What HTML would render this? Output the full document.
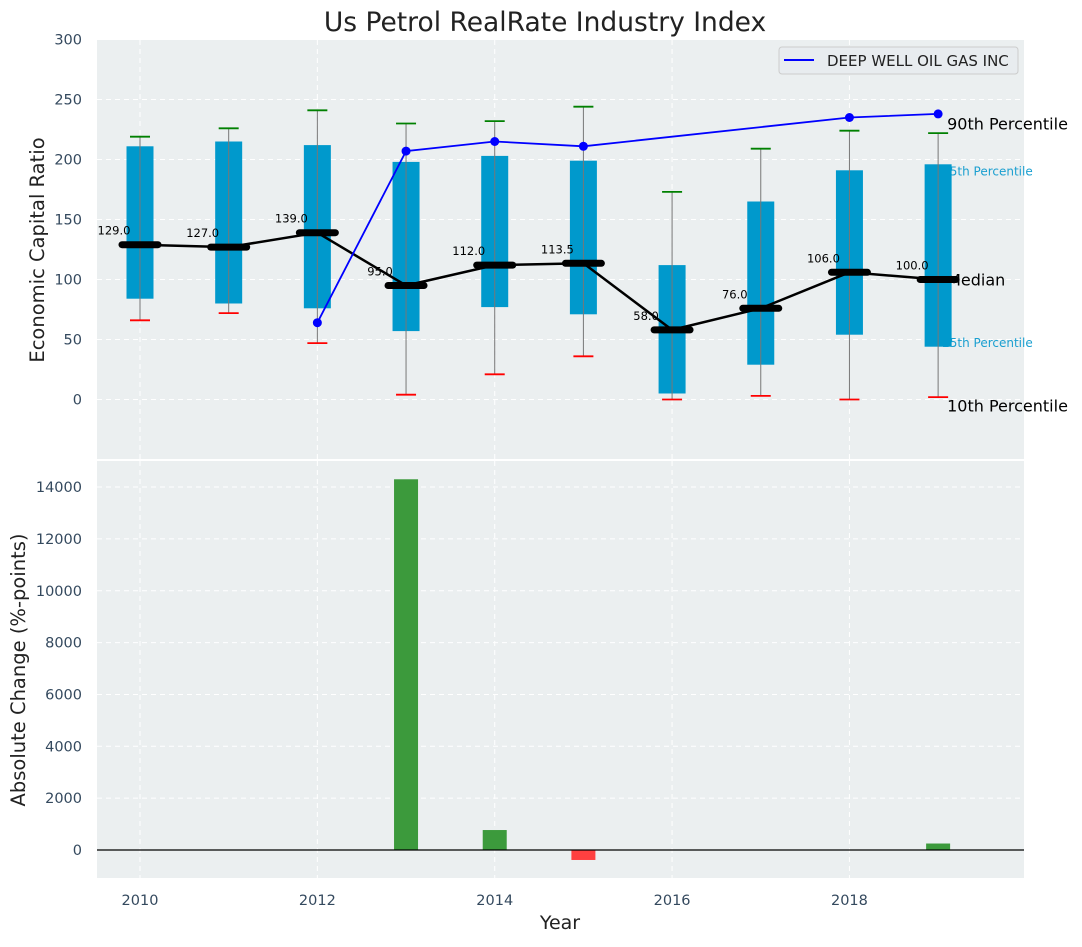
<!DOCTYPE html>
<html><head><meta charset="utf-8"><style>
body{margin:0;background:#fff;}
svg text{font-family:"DejaVu Sans","Liberation Sans",sans-serif;}
</style></head><body>
<svg id="chart" width="1082" height="942" xmlns="http://www.w3.org/2000/svg">
<text x="545" y="31" font-size="26.5" text-anchor="middle" fill="#222">Us Petrol RealRate Industry Index</text>
<rect x="97" y="40" width="927" height="419" fill="#ebeff0"/>
<rect x="97" y="461" width="927" height="417" fill="#ebeff0"/>
<g id="topg"></g><g id="botg"></g>
<text transform="translate(44,250) rotate(-90)" font-size="19.5" text-anchor="middle" fill="#222">Economic Capital Ratio</text>
<text transform="translate(25,670) rotate(-90)" font-size="19.5" text-anchor="middle" fill="#222">Absolute Change (%-points)</text>
<text x="560" y="929" font-size="19" text-anchor="middle" fill="#222">Year</text>
<g>
<rect x="779" y="47" width="239" height="27" rx="3" fill="#e8ecef" stroke="#ccc"/>
<line x1="784" y1="60" x2="814" y2="60" stroke="#0000ff" stroke-width="2"/>
<text x="827" y="66" font-size="15" fill="#222">DEEP WELL OIL GAS INC</text>
</g>
</svg>
<script>
const years=[2010,2011,2012,2013,2014,2015,2016,2017,2018,2019];
const p10=[66,72,47,4,21,36,0,3,0,2];
const q1=[84,80,76,57,77,71,5,29,54,44];
const med=[129,127,139,95,112,113.5,58,76,106,100];
const q3=[211,215,212,198,203,199,112,165,191,196];
const p90=[219,226,241,230,232,244,173,209,224,222];
const coYears=[2012,2013,2014,2015,2018,2019];
const coVals=[64,207,215,211,235,238];
const barYears=[2013,2014,2015,2019];
const barVals=[14300,770,-385,250];
const yTicksTop=[0,50,100,150,200,250,300];
const yTicksBot=[0,2000,4000,6000,8000,10000,12000,14000];
const xTicks=[2010,2012,2014,2016,2018];

const NS='http://www.w3.org/2000/svg';
const X=v=>140+(v-2010)*88.68;
const Yt=v=>399.5-v*1.2;
const Yb=v=>850-v*0.025925;
function mk(p,tag,a,txt){const e=document.createElementNS(NS,tag);for(const k in a)e.setAttribute(k,a[k]);if(txt!==undefined)e.textContent=txt;p.appendChild(e);return e;}
const topG=document.getElementById('topg'),botG=document.getElementById('botg');
xTicks.forEach(t=>{
 let g=mk(topG,'line',{x1:X(t),x2:X(t),y1:40,y2:459,stroke:'#fff','stroke-dasharray':'5,4'});
 
 
 let g2=mk(botG,'line',{x1:X(t),x2:X(t),y1:461,y2:878,stroke:'#fff','stroke-dasharray':'5,4'});
 
 
 let l=mk(botG,'text',{x:X(t),y:905,'font-size':14.5,'text-anchor':'middle',fill:'#34495e'},t);
 
 
});
yTicksTop.forEach(t=>{
 if(t<300){let g=mk(topG,'line',{x1:97,x2:1024,y1:Yt(t),y2:Yt(t),stroke:'#fff','stroke-dasharray':'5,4'});
 
 }
 let l=mk(topG,'text',{x:82,y:Yt(t)+5,'font-size':14.5,'text-anchor':'end',fill:'#34495e'},t);
 
 
});
yTicksBot.forEach(t=>{
 let g=mk(botG,'line',{x1:97,x2:1024,y1:Yb(t),y2:Yb(t),stroke:'#fff','stroke-dasharray':'5,4'});
 
 
 let l=mk(botG,'text',{x:82,y:Yb(t)+5,'font-size':14.5,'text-anchor':'end',fill:'#34495e'},t);
 
 
});
const lx=X(2019);
[['90th Percentile',p90[9]+7,16,'#000',9],['75th Percentile',q3[9]-5,12,'#1a9fd0',4],['Median',med[9]-1,16,'#000',9],['25th Percentile',q1[9]+4,12,'#1a9fd0',4],['10th Percentile',p10[9]-8,16,'#000',9]].forEach(r=>{
 let t=mk(topG,'text',{x:lx+r[4],y:Yt(r[1])+5,'font-size':r[2],fill:r[3]},r[0]);
 
 
});
years.forEach((y,i)=>{
 const x=X(y);
 let b=mk(topG,'rect',{x:x-13.5,y:Yt(q3[i]),width:27,height:Yt(q1[i])-Yt(q3[i]),fill:'#0099cc'});
 
 
 let w=mk(topG,'line',{x1:x,x2:x,y1:Yt(p90[i]),y2:Yt(p10[i]),stroke:'#777','stroke-width':1});
 
 
 let h=mk(topG,'line',{x1:x-10,x2:x+10,y1:Yt(p90[i]),y2:Yt(p90[i]),stroke:'green','stroke-width':1.8});
 
 
 let l=mk(topG,'line',{x1:x-10,x2:x+10,y1:Yt(p10[i]),y2:Yt(p10[i]),stroke:'red','stroke-width':1.8});
 
 
});
let mp=mk(topG,'polyline',{points:years.map((y,i)=>X(y)+','+Yt(med[i])).join(' '),fill:'none',stroke:'#000','stroke-width':2.5});


years.forEach((y,i)=>{
 let m=mk(topG,'line',{x1:X(y)-18,x2:X(y)+18,y1:Yt(med[i]),y2:Yt(med[i]),stroke:'#000','stroke-width':7,'stroke-linecap':'round'});
 
 
 let t=mk(topG,'text',{x:X(y)-26,y:Yt(med[i])-10,'font-size':11.5,'text-anchor':'middle',fill:'#000'},med[i].toFixed(1));
 
 
});
let cl=mk(topG,'polyline',{points:coYears.map((y,i)=>X(y)+','+Yt(coVals[i])).join(' '),fill:'none',stroke:'#0000ff','stroke-width':1.8});


coYears.forEach((y,i)=>{
 let c=mk(topG,'circle',{cx:X(y),cy:Yt(coVals[i]),r:4.5,fill:'#0000ff'});
 
 
});
barYears.forEach((y,i)=>{
 const v=barVals[i];
 let b=mk(botG,'rect',{x:X(y)-12,y:Math.min(Yb(v),Yb(0)),width:24,height:Math.abs(Yb(v)-Yb(0)),fill:v>=0?'#3c9a3c':'#ff4040'});
 
 
});
let z=mk(botG,'line',{x1:97,x2:1024,y1:Yb(0),y2:Yb(0),stroke:'#000','stroke-width':1.2});


</script>
</body></html>
